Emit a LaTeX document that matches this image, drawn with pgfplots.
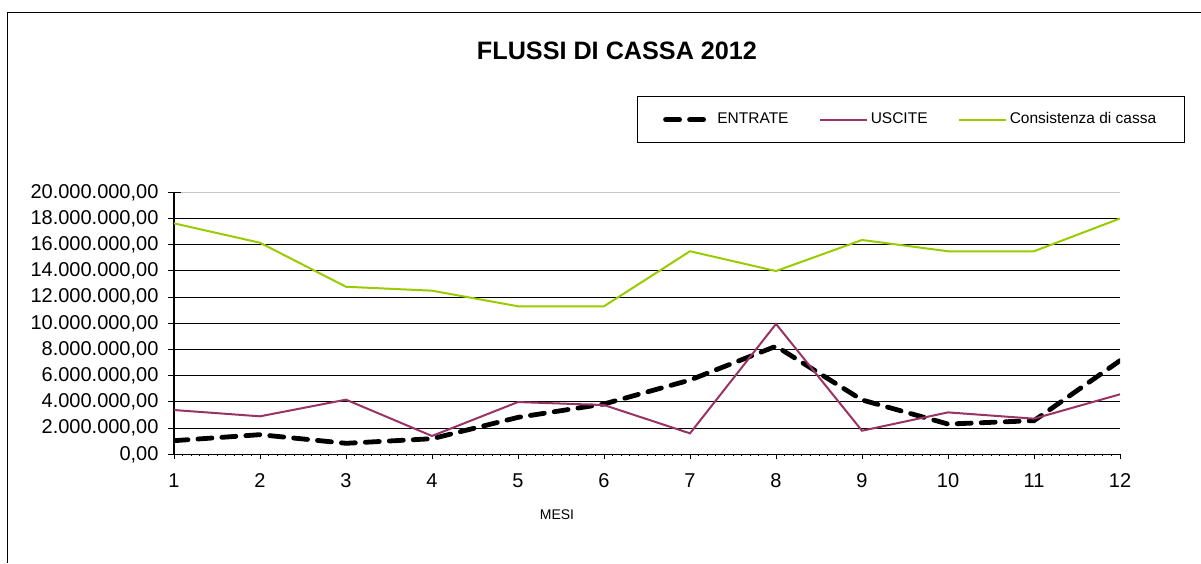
\documentclass[border=0pt]{standalone}
\usepackage{fontspec}
\setmainfont{Liberation Sans}
\usepackage{pgfplots}
\pgfplotsset{compat=1.18}
\definecolor{uscite}{HTML}{993366}
\definecolor{cassa}{HTML}{99CC00}
\newcommand{\toplabel}{20.000.000,00}
\begin{document}
\begin{tikzpicture}
\useasboundingbox (0,0) rectangle (600.5pt,-281.5pt);
% chart frame (left and top edges visible)
\draw[line width=0.75pt] (3.75pt,-281.5pt) -- (3.75pt,-6.15pt) -- (600.5pt,-6.15pt);
% title
\node[font=\fontsize{12.6}{14}\selectfont\bfseries] at (308.5pt,-25.5pt) {FLUSSI DI CASSA 2012};
% x label
\node[font=\fontsize{7}{8}\selectfont] at (278.5pt,-257.5pt) {MESI};
\begin{axis}[
  at={(87pt,-227.15pt)}, anchor=south west,
  scale only axis, width=473pt, height=131pt,
  xmin=1, xmax=12, ymin=0, ymax=20000000,
  axis lines=left, axis line style={-, line width=0.75pt, black},
  xtick={1,...,12},
  minor x tick num=9,
  xtick align=outside,
  major tick length=2.5pt, minor tick length=1pt,
  ytick={0,2000000,4000000,6000000,8000000,10000000,12000000,14000000,16000000,18000000},
  yticklabels={{0,00},{2.000.000,00},{4.000.000,00},{6.000.000,00},{8.000.000,00},{10.000.000,00},{12.000.000,00},{14.000.000,00},{16.000.000,00},{18.000.000,00}},
  extra y ticks={20000000},
  extra y tick labels={\toplabel},
  extra y tick style={grid style={gray!45, line width=0.5pt}},
  ytick align=center,
  ytick style={/pgfplots/major tick length=6.5pt},
  ymajorgrids,
  grid style={black, line width=0.5pt},
  tick style={black, line width=0.5pt},
  ticklabel style={font=\fontsize{10}{12}\selectfont},
  yticklabel style={xshift=-3pt},
  xticklabel style={yshift=-3.5pt},
  /pgf/number format/assume math mode=true,
  scaled y ticks=false,
  legend columns=3,
  legend cell align=left,
  legend style={
    at={(0.4894,1.3676)}, anchor=north west,
    draw=black, line width=0.6pt,
    font=\fontsize{7.75}{9}\selectfont,
    inner xsep=12.8pt, inner ysep=6pt,
    nodes={inner xsep=1.2pt},
    /tikz/every even column/.append style={column sep=14.2pt},
  },
  legend image code/.code={\draw[#1] (0pt,0pt) -- (23.5pt,0pt);},
]
\addplot[black, line width=2.4pt, line cap=round, dash pattern=on 7pt off 5pt] coordinates {
(1,1040000) (2,1500000) (3,840000) (4,1190000) (5,2820000) (6,3840000)
(7,5670000) (8,8250000) (9,4150000) (10,2310000) (11,2570000) (12,7150000)};
\addlegendentry{ENTRATE}
\addplot[uscite, line width=1pt] coordinates {
(1,3380000) (2,2900000) (3,4170000) (4,1400000) (5,3990000) (6,3760000)
(7,1600000) (8,9950000) (9,1800000) (10,3200000) (11,2720000) (12,4580000)};
\addlegendentry{USCITE}
\addplot[cassa, line width=1pt] coordinates {
(1,17630000) (2,16150000) (3,12790000) (4,12490000) (5,11300000) (6,11300000)
(7,15500000) (8,13990000) (9,16360000) (10,15500000) (11,15500000) (12,18000000)};
\addlegendentry{Consistenza di cassa}
\end{axis}
\end{tikzpicture}
\end{document}
